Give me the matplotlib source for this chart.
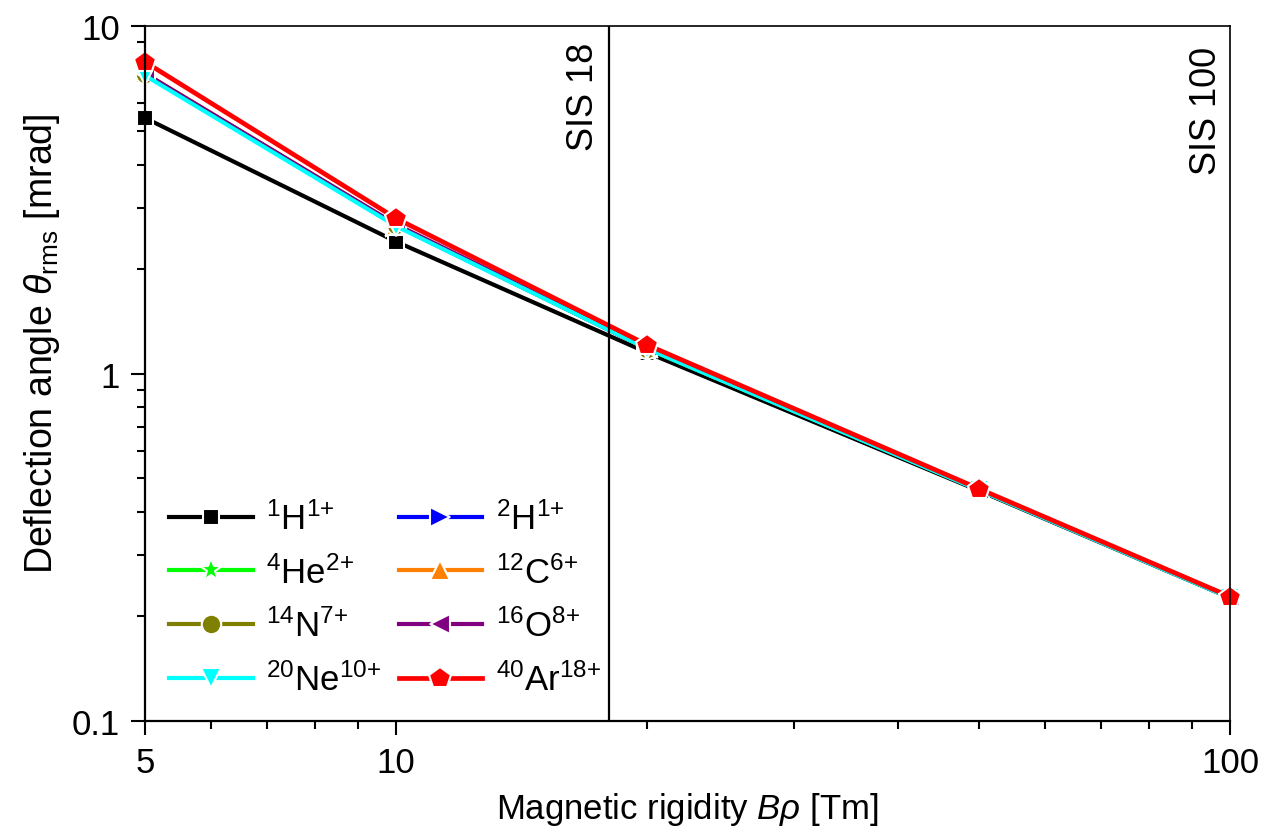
import matplotlib
matplotlib.use('Agg')
import matplotlib.pyplot as plt
import matplotlib.ticker as ticker
import matplotlib.transforms as mtransforms

plt.rcParams['font.family'] = ['Liberation Sans', 'DejaVu Sans']
plt.rcParams['mathtext.fontset'] = 'custom'
plt.rcParams['mathtext.rm'] = 'Liberation Sans'
plt.rcParams['mathtext.it'] = 'Liberation Sans:italic'

# data
rigidity = [5, 10, 20, 50, 100]
h1 = [5.45, 2.40, 1.15, 0.460, 0.226]
h2 = [7.28, 2.67, 1.18, 0.463, 0.227]
he4 = [7.30, 2.68, 1.18, 0.463, 0.227]
c12 = [7.32, 2.68, 1.19, 0.464, 0.227]
n14 = [7.30, 2.68, 1.18, 0.463, 0.227]
o16 = [7.32, 2.69, 1.19, 0.464, 0.227]
ne20 = [7.22, 2.66, 1.18, 0.462, 0.226]
ar40 = [7.90, 2.80, 1.21, 0.466, 0.228]

labels = [r'$^{1}$H$^{1{+}}$', r'$^{2}$H$^{1{+}}$', r'$^{4}$He$^{2{+}}$', r'$^{12}$C$^{6{+}}$',
          r'$^{14}$N$^{7{+}}$', r'$^{16}$O$^{8{+}}$', r'$^{20}$Ne$^{10{+}}$', r'$^{40}$Ar$^{18{+}}$']
series = [h1, h2, he4, c12, n14, o16, ne20, ar40]
colors = ['#000000', '#0000FF', '#00FF00', '#FF8000', '#808000', '#800080', '#00FFFF', '#FF0000']
markers = ['s', '>', '*', '^', 'o', '<', 'v', 'p']
msizes = [12, 14, 17, 14, 14, 14, 14, 16]

fig = plt.figure(figsize=(12.71, 8.28), dpi=100)
ax = fig.add_axes([0.114, 0.128, 0.854, 0.839])

handles = []
for y, lab, c, m, ms in zip(series, labels, colors, markers, msizes):
    lw = 3.4 if c == '#FF0000' else 3.0
    h, = ax.plot(rigidity, y, color=c, lw=lw, marker=m, ms=ms,
                 mec='white', mew=1.5, label=lab, clip_on=False)
    handles.append(h)

ax.axvline(18, color='black', lw=1.6)

ax.set_xscale('log')
ax.set_yscale('log')
ax.set_xlim(5, 100)
ax.set_ylim(0.1, 10)

ax.xaxis.set_major_locator(ticker.FixedLocator([5, 10, 100]))
ax.xaxis.set_major_formatter(ticker.FixedFormatter(['5', '10', '100']))
ax.xaxis.set_minor_locator(ticker.LogLocator(base=10, subs=range(2, 10), numticks=20))
ax.xaxis.set_minor_formatter(ticker.NullFormatter())
ax.yaxis.set_major_locator(ticker.FixedLocator([0.1, 1, 10]))
ax.yaxis.set_major_formatter(ticker.FixedFormatter(['0.1', '1', '10']))
ax.yaxis.set_minor_locator(ticker.LogLocator(base=10, subs=range(2, 10), numticks=20))
ax.yaxis.set_minor_formatter(ticker.NullFormatter())

ax.tick_params(which='both', direction='out', labelsize=25, width=1.5, top=False, right=False)
ax.tick_params(which='major', length=10, pad=8)
ax.tick_params(which='minor', length=6)
for s in ['left', 'bottom']:
    ax.spines[s].set_linewidth(1.6)
for s in ['top', 'right']:
    ax.spines[s].set_linewidth(1.2)

ax.set_xlabel(r'Magnetic rigidity $B\rho$ [Tm]', fontsize=25, labelpad=8)
ax.set_ylabel(r'Deflection angle $\theta_{\rm rms}$ [mrad]', fontsize=27)
ax.yaxis.set_label_coords(-0.076, 0.545)

trans = mtransforms.blended_transform_factory(ax.transData, ax.transAxes)
ax.text(17.6, 0.978, 'SIS 18', rotation=90, ha='right', va='top', fontsize=26, transform=trans)
ax.text(98.3, 0.972, 'SIS 100', rotation=90, ha='right', va='top', fontsize=26, transform=trans)

order = [0, 2, 4, 6, 1, 3, 5, 7]
ax.legend([handles[i] for i in order], [labels[i] for i in order], ncol=2,
          loc='lower left', bbox_to_anchor=(0.0, 0.0), frameon=False, fontsize=25,
          handlelength=2.4, handletextpad=0.4, columnspacing=0.5, labelspacing=0.55,
          borderaxespad=0.3)

fig.savefig('out.png', dpi=100)
